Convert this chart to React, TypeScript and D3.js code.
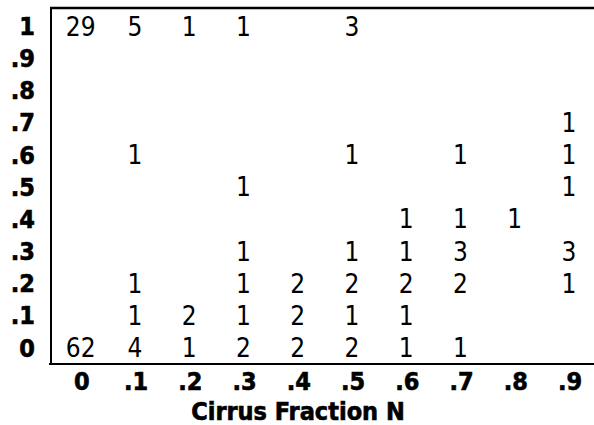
import { useEffect, useRef } from 'react'
import { select, scalePoint } from 'd3'

// column values (cirrus fraction N) and row values
const xTicks = ['0', '.1', '.2', '.3', '.4', '.5', '.6', '.7', '.8', '.9']
const yTicks = ['0', '.1', '.2', '.3', '.4', '.5', '.6', '.7', '.8', '.9', '1']

// counts per row, index matches xTicks (null = empty cell)
const row0 = [62, 4, 1, 2, 2, 2, 1, 1, null, null]
const row1 = [null, 1, 2, 1, 2, 1, 1, null, null, null]
const row2 = [null, 1, null, 1, 2, 2, 2, 2, null, 1]
const row3 = [null, null, null, 1, null, 1, 1, 3, null, 3]
const row4 = [null, null, null, null, null, null, 1, 1, 1, null]
const row5 = [null, null, null, 1, null, null, null, null, null, 1]
const row6 = [null, 1, null, null, null, 1, null, 1, null, 1]
const row7 = [null, null, null, null, null, null, null, null, null, 1]
const row8 = [null, null, null, null, null, null, null, null, null, null]
const row9 = [null, null, null, null, null, null, null, null, null, null]
const row10 = [29, 5, 1, 1, null, 3, null, null, null, null]

const rows = [row0, row1, row2, row3, row4, row5, row6, row7, row8, row9, row10]

const xTitle = 'Cirrus Fraction N'

function App() {
  const svg_ref = useRef<SVGSVGElement>(null)
  const width = 594,
        height = 425
  const font = "'DejaVu Sans Condensed', 'DejaVu Sans', sans-serif"

  useEffect(() => {
    const svg = select(svg_ref.current)
    svg.selectAll('*').remove()

    const x = scalePoint<string>().domain(xTicks).range([80.75, 569])
    const y = scalePoint<string>().domain(yTicks).range([348, 26.5])

    const left = 51, top = 8, bottom = 364

    // frame
    svg.append('line')
      .attr('x1', left).attr('x2', left)
      .attr('y1', top).attr('y2', bottom)
      .attr('stroke', '#000').attr('stroke-width', 2)
    svg.append('line')
      .attr('x1', left - 1).attr('x2', width)
      .attr('y1', top).attr('y2', top)
      .attr('stroke', '#000').attr('stroke-width', 2.5)
    svg.append('line')
      .attr('x1', left - 2).attr('x2', width)
      .attr('y1', bottom).attr('y2', bottom)
      .attr('stroke', '#000').attr('stroke-width', 2)

    // cell counts
    const cells: { c: string, r: string, v: number }[] = []
    rows.forEach((row, ri) => {
      row.forEach((v, ci) => {
        if (v !== null) cells.push({ c: xTicks[ci], r: yTicks[ri], v })
      })
    })

    svg.append('g')
      .selectAll('text')
      .data(cells)
      .join('text')
      .attr('x', d => x(d.c)!)
      .attr('y', d => y(d.r)!)
      .attr('text-anchor', 'middle')
      .attr('dominant-baseline', 'central')
      .attr('font-family', font)
      .attr('font-size', 26)
      .attr('fill', '#000')
      .text(d => d.v)

    const bold = (sel: any) => sel
      .attr('font-family', font)
      .attr('font-weight', 'bold')
      .attr('font-size', 25)
      .attr('stroke', '#000')
      .attr('stroke-width', 0.6)
      .attr('dominant-baseline', 'central')

    // y tick labels
    svg.append('g')
      .selectAll('text')
      .data(yTicks)
      .join('text')
      .attr('x', 35)
      .attr('y', d => y(d)!)
      .attr('text-anchor', 'end')
      .call(bold)
      .text(d => d)

    // x tick labels
    svg.append('g')
      .selectAll('text')
      .data(xTicks)
      .join('text')
      .attr('x', d => x(d)! + 1)
      .attr('y', 381.5)
      .attr('text-anchor', 'middle')
      .call(bold)
      .text(d => d)

    svg.append('text')
      .attr('x', 298)
      .attr('y', 411)
      .attr('text-anchor', 'middle')
      .call(bold)
      .text(xTitle)
  }, [])

  return (
    <svg ref={svg_ref} width={width} height={height}
      viewBox={`0 0 ${width} ${height}`}
      style={{ position: 'absolute', left: 0, top: 0, background: '#fff' }} />
  )
}

export default App
